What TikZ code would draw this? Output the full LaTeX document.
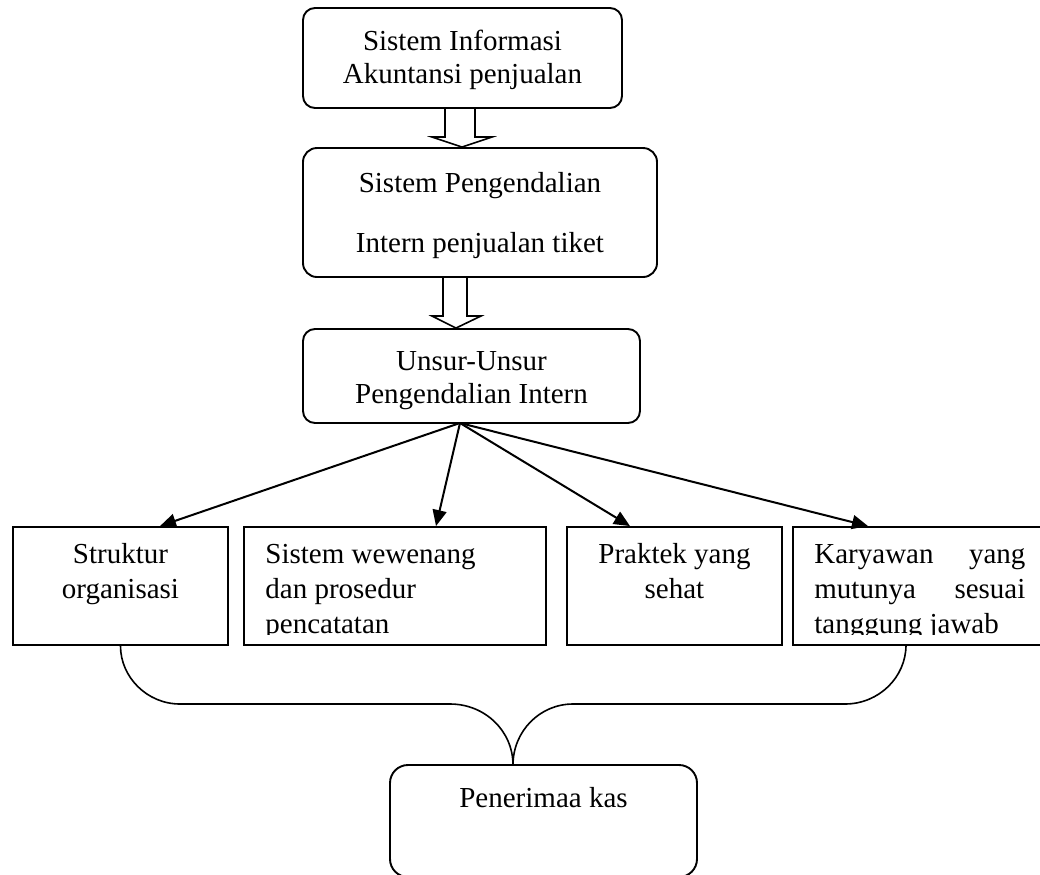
\documentclass[tikz,border=0pt]{standalone}
\usepackage{fontspec}
\setmainfont{Liberation Serif}
\usetikzlibrary{arrows.meta,fit}

\begin{document}
\begin{tikzpicture}[x=0.5pt,y=-0.5pt,
  rbox/.style={draw, line width=0.95pt, rounded corners=6pt, inner sep=0pt},
  sbox/.style={draw, line width=0.95pt, inner sep=0pt},
  txt/.style={inner sep=0pt, font=\fontsize{14.5}{16.5}\selectfont},
  lowtxt/.style={inner sep=0pt, font=\fontsize{14.5}{17.5}\selectfont},
  link/.style={line width=1pt, -{Triangle[length=8pt,width=7pt]}},
  brace/.style={line width=0.8pt},
  hollow/.style={line width=0.8pt, line join=miter}]

\useasboundingbox (0,0) rectangle (1040,874);

% upper chain (multi-line texts are placed by the baseline of their last line)
\node[rbox, fit={(303,8)(622,108)}] (info) {};
\node[txt, align=center, anchor=base] (infot) at (462.5,83) {Sistem Informasi\\Akuntansi penjualan};

\node[rbox, rounded corners=7pt, fit={(303,148)(657,277)}] (spi) {};
\node[inner sep=0pt, font=\fontsize{14.5}{30}\selectfont, align=center, anchor=base] (spit) at (480,252) {Sistem Pengendalian\\Intern penjualan tiket};

\node[rbox, fit={(303,329)(640,423)}] (unsur) {};
\node[txt, align=center, anchor=base] (unsurt) at (471.5,403) {Unsur-Unsur\\Pengendalian Intern};

% hollow block arrows between the upper boxes
\draw[hollow] (info.south -| 445,0) -- (445,137) -- (432,137) -- (spi.north -| 462,0)
  -- (492,137) -- (475,137) -- (info.south -| 475,0);
\draw[hollow] (spi.south -| 443,0) -- (443,316) -- (432,316) -- (unsur.north -| 456,0)
  -- (481,316) -- (467,316) -- (spi.south -| 467,0);

% the four elements
\node[sbox, fit={(13,527)(228,645)}] (org) {};
\node[sbox, fit={(244,527)(546,645)}] (wew) {};
\node[sbox, fit={(567,527)(782,645)}] (prak) {};
\node[sbox, fit={(793,527)(1046,645)}] (kar) {};

\node[lowtxt, align=center, anchor=base] (orgt) at (120.5,598) {Struktur\\organisasi};
\node[lowtxt, align=center, anchor=base] (prakt) at (674.5,598) {Praktek yang\\sehat};
\begin{scope}
  \clip (240,520) rectangle (1040,634);
  \node[lowtxt, align=left, anchor=base west] (wewt) at (265,633) {Sistem wewenang\\dan prosedur\\pencatatan};
  \node[lowtxt, align=left, anchor=base west] (kart) at (814,633)
    {\makebox[105.5pt][s]{Karyawan yang}\\\makebox[105.5pt][s]{mutunya sesuai}\\tanggung jawab};
\end{scope}

\coordinate (src) at (460,423);
\draw[link] (src) -- (org.north -| 160,0);
\draw[link] (src) -- (wew.north -| 436,0);
\draw[link] (src) -- (prak.north -| 630,0);
\draw[link] (src) -- (kar.north -| 868,0);

% result box
\node[rbox, rounded corners=9pt, fit={(390,765)(697,877)}] (pen) {};
\node[txt, anchor=base] (pent) at (543.5,807) {Penerimaa kas};

% joining brace
\coordinate (karb) at (906,645);
\coordinate (cusp) at (513,765);
\draw[brace] (org.south) .. controls (120.5,677) and (147,704) .. (180,704)
  -- (450,704) .. controls (485,704) and (513,731) .. (cusp);
\draw[brace] (karb) .. controls (906,677) and (879,704) .. (845,704)
  -- (573,704) .. controls (540,704) and (513,731) .. (cusp);
\end{tikzpicture}
\end{document}
